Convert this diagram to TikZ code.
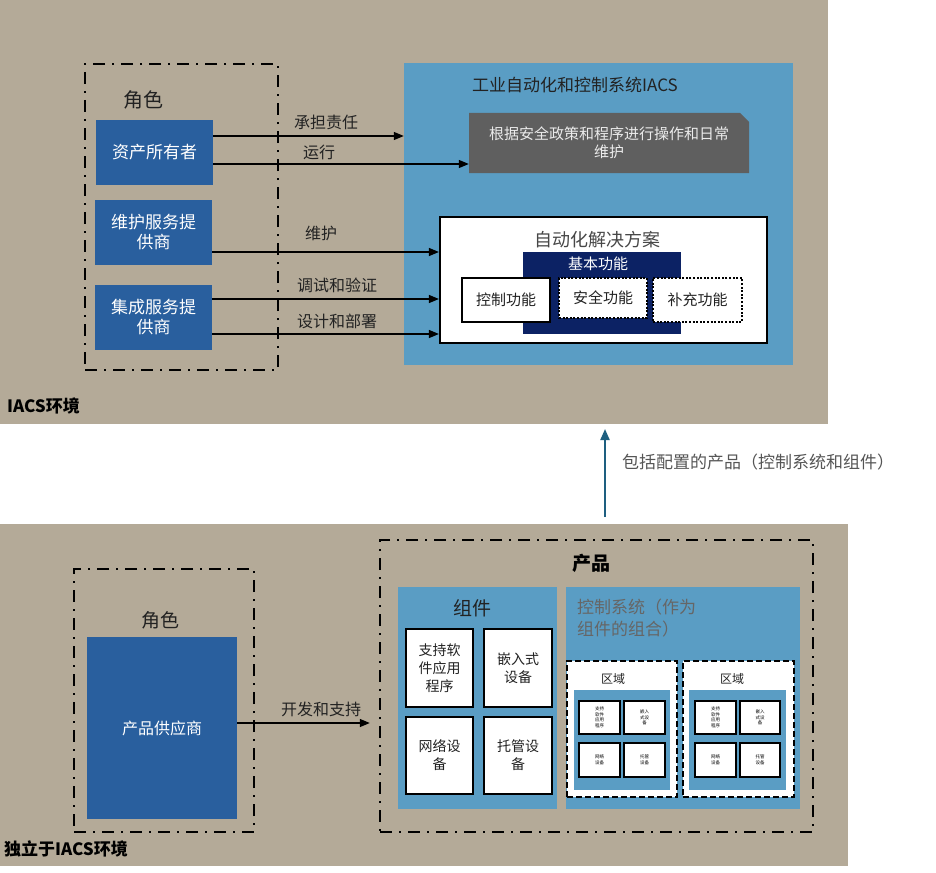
\documentclass[tikz,border=0pt]{standalone}
\usepackage{fontspec}
\setmainfont{Noto Sans CJK SC}
\usetikzlibrary{arrows.meta,calc}
\definecolor{tanbg}{RGB}{180,170,152}
\definecolor{roleblue}{RGB}{41,95,158}
\definecolor{panelblue}{RGB}{90,157,196}
\definecolor{navyblue}{RGB}{12,34,100}
\definecolor{opsgrey}{RGB}{95,95,95}
\definecolor{tealarrow}{RGB}{30,95,128}
\definecolor{txtgrey}{RGB}{85,85,85}
\definecolor{txtdark}{RGB}{34,34,34}
\newcommand\fsz[2]{\fontsize{#1pt}{#2pt}\selectfont}
\newcommand\B[7]{\node[inner sep=0pt,#6,minimum width={(#4-#2)*1pt},minimum height={(#5-#3)*1pt}] (#1) at ({(#2+#4)/2},{(#3+#5)/2}) {#7};}
\begin{document}
\begin{tikzpicture}[x=1pt,y=-1pt,
  ddbox/.style={draw=black,line width=2.4pt,dash pattern=on 12pt off 7pt on 2pt off 7pt},
  role/.style={fill=roleblue,text=white,align=center,font=\fsz{17}{20}},
  arr/.style={-{Triangle[length=10pt,width=8pt]},line width=1.3pt},
  lbl/.style={font=\fsz{16}{19},text=txtdark,inner sep=0pt},
  compbox/.style={fill=white,draw=black,line width=2.5pt,align=center,font=\fsz{14}{18},text=txtdark},
  funcbox/.style={fill=white,draw=black,align=center,font=\fsz{15}{18},text=txtdark},
  zonebox/.style={fill=white,draw=black,line width=2.2pt,dash pattern=on 6pt off 3pt},
  mini/.style={fill=white,draw=black,line width=1.8pt,align=center,font=\fsz{4.5}{5.5}},
  bluepanel/.style={fill=panelblue},
  title/.style={font=\bfseries\fsz{17}{20},text=black,inner sep=0pt}
]
\useasboundingbox (0,0) rectangle (936,872);
\fill[white] (0,0) rectangle (936,872);
% ---------- top section ----------
\B{topbg}{0}{0}{828}{424}{fill=tanbg}{}
\B{roles}{85}{64}{278}{370}{ddbox}{}
\node[font=\fsz{20}{24},text=txtdark] (rolet) at (143,100) {角色};
\B{owner}{96}{120}{213}{185}{role}{资产所有者}
\B{maint}{95}{200}{212}{265}{role}{维护服务提\\供商}
\B{integ}{95}{285}{212}{350}{role}{集成服务提\\供商}
\B{iacs}{404}{63}{793}{365}{bluepanel}{}
\node[font=\fsz{17}{20},text=txtdark,inner sep=0pt] (iacst) at (575,85) {工业自动化和控制系统IACS};
\fill[opsgrey] (469,113) -- (740,113) -- (749,122) -- (749,173) -- (469,173) -- cycle;
\B{ops}{469}{113}{749}{173}{align=center,text=white!92!black,font=\fsz{15}{18}}{根据安全政策和程序进行操作和日常\\维护}
\B{auto}{440}{217}{767}{343}{fill=white,draw=black,line width=2.2pt}{}
\node[font=\fsz{18}{22},text=black!72,inner sep=0pt] (autot) at (597,240) {自动化解决方案};
\B{basic}{523}{252}{681}{334}{fill=navyblue}{}
\node[font=\fsz{15}{18},text=white,inner sep=0pt] (basict) at (598,264) {基本功能};
\B{ctrl}{462}{278}{550}{322}{funcbox,line width=2.5pt}{控制功能}
\B{safe}{559}{278}{647}{318}{funcbox,line width=2pt,dash pattern=on 2pt off 1.6pt}{安全功能}
\B{supp}{653}{278}{742}{322}{funcbox,line width=2pt,dash pattern=on 2pt off 1.6pt}{补充功能}
\coordinate (ya) at (0,136);
\coordinate (yb) at (0,164);
\coordinate (yc) at (0,252);
\coordinate (yd) at (0,299);
\coordinate (ye) at (0,334);
\draw[arr] (owner.east |- ya) -- (iacs.west |- ya);
\draw[arr] (owner.east |- yb) -- (ops.west |- yb);
\draw[arr] (maint.east |- yc) -- (auto.west |- yc);
\draw[arr] (integ.east |- yd) -- (auto.west |- yd);
\draw[arr] (integ.east |- ye) -- (auto.west |- ye);
\node[lbl] (l1) at (326,122) {承担责任};
\node[lbl] (l2) at (319,152) {运行};
\node[lbl] (l3) at (321,233) {维护};
\node[lbl] (l4) at (337,285) {调试和验证};
\node[lbl] (l5) at (337,321) {设计和部署};
\node[title,anchor=west] (env1) at (7,406) {IACS环境};
% ---------- middle arrow ----------
\coordinate (mA) at (605,517);
\coordinate (mB) at (605,429);
\draw[-{Triangle[length=11pt,width=9pt]},line width=2pt,draw=tealarrow,fill=tealarrow] (mA) -- (mB);
\node[font=\fsz{17}{20},text=txtgrey,anchor=west,inner sep=0pt] (incl) at (622,462) {包括配置的产品（控制系统和组件）};
% ---------- bottom section ----------
\B{botbg}{0}{524}{848}{866}{fill=tanbg}{}
\B{vend}{74}{569}{254}{832}{ddbox}{}
\node[font=\fsz{19}{23},text=txtdark] (rolet2) at (160,620) {角色};
\B{supplier}{87}{637}{237}{819}{role,font=\fsz{16}{19}}{产品供应商}
\B{prod}{380}{540}{813}{832}{ddbox}{}
\coordinate (yf) at (0,723);
\draw[arr,shorten >=9pt] (supplier.east |- yf) -- (prod.west |- yf);
\node[lbl] (l6) at (321,709) {开发和支持};
\node[title,font=\bfseries\fsz{19}{22}] (prodt) at (591,563) {产品};
\B{comp}{398}{587}{557}{809}{bluepanel}{}
\node[font=\fsz{19}{23},text=txtdark,inner sep=0pt] (compt) at (472,608) {组件};
\B{c1}{406}{629}{473}{707}{compbox}{支持软\\件应用\\程序}
\B{c2}{484}{629}{552}{707}{compbox}{嵌入式\\设备}
\B{c3}{406}{717}{473}{794}{compbox}{网络设\\备}
\B{c4}{484}{717}{552}{794}{compbox}{托管设\\备}
\B{cs}{566}{587}{800}{809}{bluepanel}{}
\node[font=\fsz{17}{22},text=black!60,anchor=north west,align=left,inner sep=0pt] (cst) at (577,599) {控制系统（作为\\组件的组合）};
\B{z1}{567}{661}{677}{797}{zonebox}{}
\B{z2}{683}{661}{794}{797}{zonebox}{}
\node[font=\fsz{12}{14},text=txtdark,inner sep=0pt] (z1t) at (613,679) {区域};
\node[font=\fsz{12}{14},text=txtdark,inner sep=0pt] (z2t) at (732,679) {区域};
\B{z1in}{574}{690}{670}{790}{bluepanel}{}
\B{z2in}{689}{690}{786}{790}{bluepanel}{}
\B{m11}{579}{701}{620}{734}{mini}{支持\\软件\\应用\\程序}
\B{m12}{624}{701}{665}{734}{mini}{嵌入\\式设\\备}
\B{m13}{579}{743}{620}{777}{mini}{网络\\设备}
\B{m14}{624}{743}{665}{777}{mini}{托管\\设备}
\B{m21}{695}{701}{736}{734}{mini}{支持\\软件\\应用\\程序}
\B{m22}{740}{701}{780}{734}{mini}{嵌入\\式设\\备}
\B{m23}{695}{743}{736}{777}{mini}{网络\\设备}
\B{m24}{740}{743}{780}{777}{mini}{托管\\设备}
\node[title,anchor=west] (env2) at (4,849) {独立于IACS环境};
\end{tikzpicture}
\end{document}
